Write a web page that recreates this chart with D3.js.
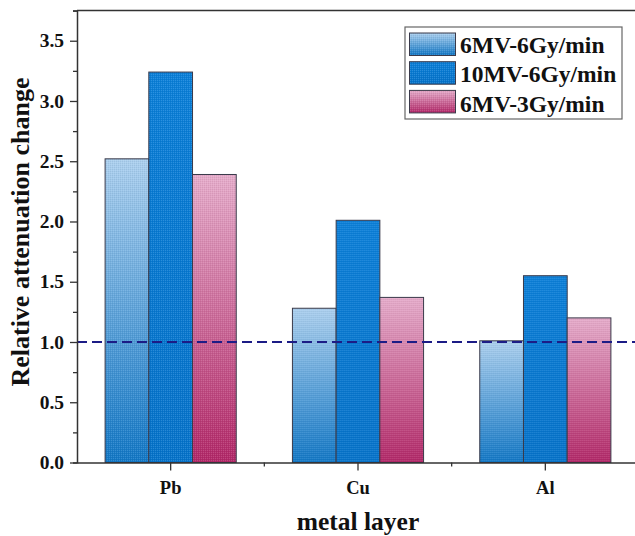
<!DOCTYPE html>
<html>
<head>
<meta charset="utf-8">
<script src="https://cdn.jsdelivr.net/npm/d3@7"></script>
<style>
  html, body { margin: 0; padding: 0; background: #fff; }
  svg { display: block; }
  text { font-family: "Liberation Serif", "Times New Roman", serif; font-weight: bold; fill: #111; }
</style>
</head>
<body>
<svg id="chart" width="635" height="536"></svg>
<script>
// Categories (metal layers) and the three beam settings
const categories = ["Pb", "Cu", "Al"];
const seriesNames = ["6MV-6Gy/min", "10MV-6Gy/min", "6MV-3Gy/min"];
const values6MV6 = [2.52, 1.28, 1.01];
const values10MV6 = [3.24, 2.01, 1.55];
const values6MV3 = [2.39, 1.37, 1.20];
const yTicks = [0.0, 0.5, 1.0, 1.5, 2.0, 2.5, 3.0, 3.5];
const referenceLevel = 1.0;

const seriesValues = [values6MV6, values10MV6, values6MV3];

const svg = d3.select("#chart");
const W = 635, H = 536;
const plotLeft = 77, plotRight = 639, plotTop = 10.6, plotBottom = 462.5;

const x = d3.scaleBand().domain(categories).range([plotLeft, plotRight]).paddingInner(0).paddingOuter(0);
const xs = d3.scaleBand().domain(seriesNames).range([x.bandwidth() * 0.15, x.bandwidth() * 0.85]).padding(0);
const y = d3.scaleLinear().domain([0, 3.75]).range([plotBottom, plotTop]);

// Fill definitions: vertical gradients per series plus a fine dot texture
const defs = svg.append("defs");
const grads = [
  { id: "g0", c0: "#abcfee", c1: "#1277c5" },
  { id: "g1", c0: "#0b7fd8", c1: "#0673ca" },
  { id: "g2", c0: "#e5abca", c1: "#b22868" }
];
grads.forEach(g => {
  const lg = defs.append("linearGradient").attr("id", g.id)
    .attr("x1", 0).attr("y1", 0).attr("x2", 0).attr("y2", 1);
  lg.append("stop").attr("offset", "0%").attr("stop-color", g.c0);
  lg.append("stop").attr("offset", "100%").attr("stop-color", g.c1);
});
const pat = defs.append("pattern").attr("id", "dots")
  .attr("width", 2).attr("height", 2).attr("patternUnits", "userSpaceOnUse");
pat.append("rect").attr("x", 0).attr("y", 0).attr("width", 1).attr("height", 1).attr("fill", "#fff").attr("opacity", 0.14);
pat.append("rect").attr("x", 1).attr("y", 1).attr("width", 1).attr("height", 1).attr("fill", "#000").attr("opacity", 0.06);

// Bars
const groups = svg.append("g").selectAll("g").data(categories).join("g")
  .attr("transform", d => `translate(${x(d)},0)`);
groups.each(function(cat, ci) {
  const g = d3.select(this);
  seriesNames.forEach((s, si) => {
    const v = seriesValues[si][ci];
    const bx = xs(s), bw = xs.bandwidth();
    g.append("rect").attr("x", bx).attr("y", y(v)).attr("width", bw).attr("height", y(0) - y(v))
      .attr("fill", `url(#g${si})`);
    g.append("rect").attr("x", bx).attr("y", y(v)).attr("width", bw).attr("height", y(0) - y(v))
      .attr("fill", "url(#dots)").attr("stroke", "#3a3a4a").attr("stroke-width", 1);
  });
});

// Reference line at 1.0
svg.append("line")
  .attr("x1", plotLeft).attr("x2", W).attr("y1", y(referenceLevel)).attr("y2", y(referenceLevel))
  .attr("stroke", "#1c1c86").attr("stroke-width", 2).attr("stroke-dasharray", "10,5");

// Frame (top / right)
svg.append("path")
  .attr("d", `M${plotLeft},${plotTop}H${plotRight}V${plotBottom}`)
  .attr("fill", "none").attr("stroke", "#333").attr("stroke-width", 1.5);

// Y axis with minor ticks
const yAxis = svg.append("g").attr("transform", `translate(${plotLeft},0)`);
yAxis.call(d3.axisLeft(y).tickValues(d3.range(0, 3.76, 0.25)).tickSize(4).tickFormat(""));
yAxis.selectAll(".tick").filter(d => yTicks.some(t => Math.abs(t - d) < 1e-6)).select("line").attr("x2", -7);
yAxis.selectAll(".tick line").attr("stroke", "#333").attr("stroke-width", 1.3);
yAxis.select(".domain").attr("stroke", "#333").attr("stroke-width", 1.5);
yAxis.selectAll(".ytl").data(yTicks).join("text").attr("class", "ytl")
  .attr("x", -13).attr("y", d => y(d)).attr("dy", "0.34em")
  .attr("text-anchor", "end").attr("font-size", 19.5).text(d => d.toFixed(1));

// X axis: major ticks at categories, minor at band boundaries
const xAxis = svg.append("g").attr("transform", `translate(0,${plotBottom})`);
xAxis.call(d3.axisBottom(x).tickSize(8).tickPadding(6).tickSizeOuter(0));
xAxis.select(".domain").attr("stroke", "#333").attr("stroke-width", 1.5);
xAxis.selectAll(".tick line").attr("stroke", "#333").attr("stroke-width", 1.3);
xAxis.selectAll(".tick text").attr("font-size", 18.5).attr("dy", null).attr("y", 31).style("fill", "#111");
xAxis.selectAll(".minor").data(categories.slice(1)).join("line").attr("class", "minor")
  .attr("x1", d => x(d)).attr("x2", d => x(d)).attr("y1", 0).attr("y2", 4)
  .attr("stroke", "#333").attr("stroke-width", 1.3);

// Axis titles
svg.append("text").attr("x", (plotLeft + plotRight) / 2).attr("y", 530)
  .attr("text-anchor", "middle").attr("font-size", 25.5).text("metal layer");
svg.append("text").attr("transform", "translate(29,232) rotate(-90)")
  .attr("text-anchor", "middle").attr("font-size", 26).text("Relative attenuation change");

// Legend
const legend = svg.append("g");
legend.append("rect").attr("x", 405).attr("y", 27).attr("width", 217).attr("height", 92)
  .attr("fill", "#fff").attr("stroke", "#666").attr("stroke-width", 1.2);
seriesNames.forEach((s, i) => {
  const ry = 33 + i * 28.7;
  legend.append("rect").attr("x", 409.5).attr("y", ry).attr("width", 46).attr("height", 22.5)
    .attr("fill", `url(#g${i})`);
  legend.append("rect").attr("x", 409.5).attr("y", ry).attr("width", 46).attr("height", 22.5)
    .attr("fill", "url(#dots)").attr("stroke", "#3a3a4a").attr("stroke-width", 1);
  legend.append("text").attr("x", 460).attr("y", 52.5 + i * 29.5)
    .attr("font-size", 23.5).text(s);
});
</script>
</body>
</html>
